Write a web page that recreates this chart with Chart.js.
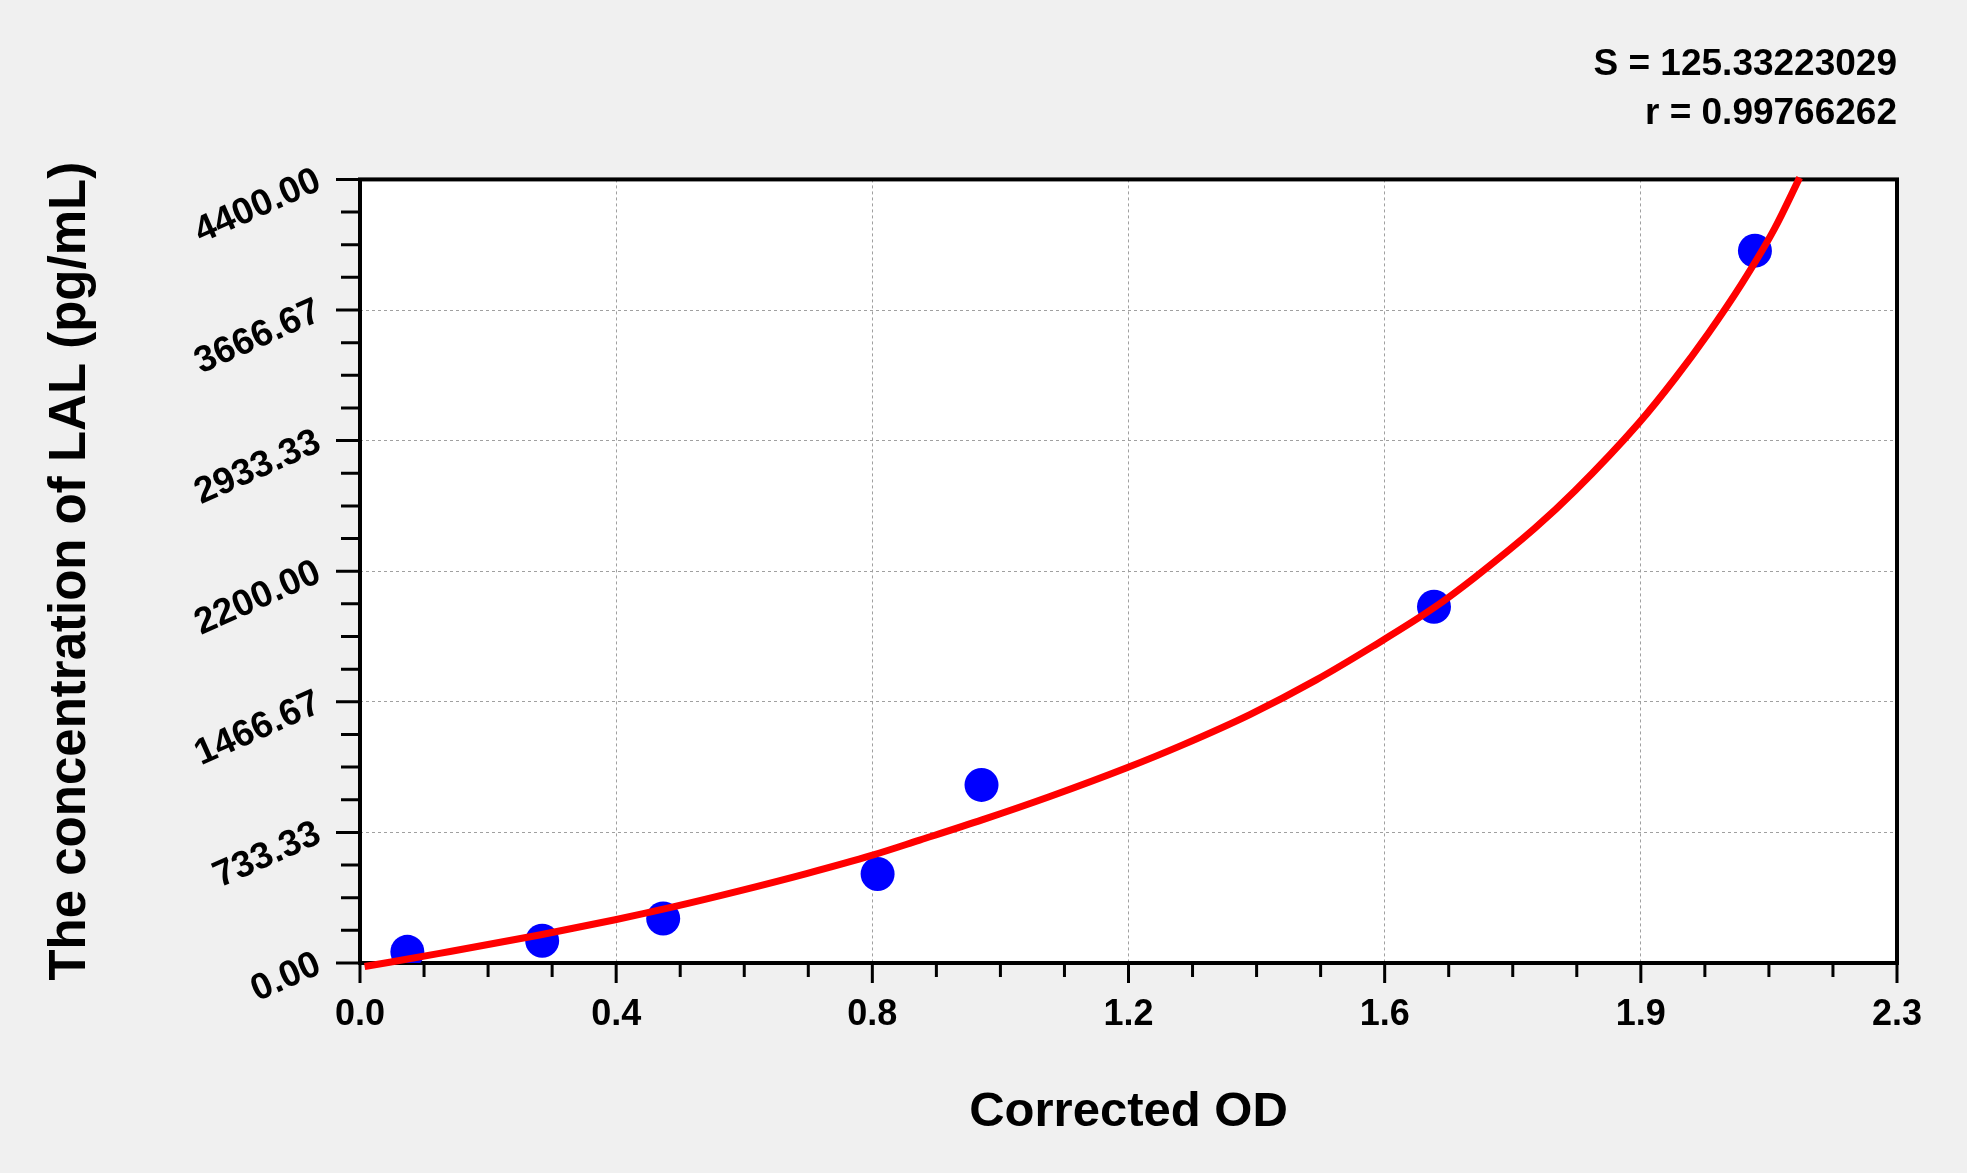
<!DOCTYPE html>
<html>
<head>
<meta charset="utf-8">
<script src="https://cdn.jsdelivr.net/npm/chart.js@4.4.1/dist/chart.umd.min.js"></script>
<style>
  html, body { margin: 0; padding: 0; background: #f0f0f0; }
  canvas { display: block; }
</style>
</head>
<body>
<canvas id="myChart" width="1967" height="1173"></canvas>
<script>
'use strict';

// standards: corrected OD vs concentration
var odValues = [0.072, 0.277, 0.461, 0.787, 0.945, 1.633, 2.121];
var concValues = [62.5, 125, 250, 500, 1000, 2000, 4000];

// fitted curve
var curveOd = [0.007, 0.121, 0.273, 0.388, 0.476, 0.577, 0.679, 0.778, 0.851, 0.947,
  1.049, 1.165, 1.251, 1.353, 1.454, 1.540, 1.633, 1.695, 1.786, 1.847,
  1.944, 2.000, 2.050, 2.101, 2.151, 2.189];
var curveConc = [-20, 54, 157, 243, 315, 405, 502, 604, 690, 805,
  935, 1095, 1225, 1395, 1590, 1778, 1995, 2165, 2440, 2650,
  3030, 3285, 3535, 3815, 4125, 4410];

// axes
var xTickLabels = ['0.0', '0.4', '0.8', '1.2', '1.6', '1.9', '2.3'];
var yTickLabels = ['0.00', '733.33', '1466.67', '2200.00', '2933.33', '3666.67', '4400.00'];
var statLines = ['S = 125.33223029', 'r = 0.99766262'];
var xMax = 2.337;
var yMax = 4400;

var fontName = '"Liberation Sans", Arial, sans-serif';

function toPoints(xs, ys) {
  var pts = [];
  for (var i = 0; i < xs.length; i++) {
    pts.push({ x: xs[i], y: ys[i] });
  }
  return pts;
}

// white plot box, frame and the major/minor tick marks
var framePlugin = {
  id: 'frame',
  beforeDraw: function(chart) {
    var ctx = chart.ctx;
    var a = chart.chartArea;
    ctx.save();
    ctx.fillStyle = '#f0f0f0';
    ctx.fillRect(0, 0, chart.width, chart.height);
    ctx.fillStyle = '#ffffff';
    ctx.fillRect(a.left, a.top, a.right - a.left, a.bottom - a.top);
    ctx.restore();
  },
  beforeDatasetsDraw: function(chart) {
    var ctx = chart.ctx;
    var a = chart.chartArea;
    var xs = chart.scales.x;
    var ys = chart.scales.y;
    var steps = (xTickLabels.length - 1) * 4;
    ctx.save();
    ctx.strokeStyle = '#000000';
    ctx.lineWidth = 3;
    ctx.beginPath();
    for (var i = 0; i <= steps; i++) {
      var px = xs.getPixelForValue(xMax * i / steps);
      var len = i % 4 === 0 ? 20 : 14;
      ctx.moveTo(px, a.bottom);
      ctx.lineTo(px, a.bottom + len);
      var py = ys.getPixelForValue(yMax * i / steps);
      len = i % 4 === 0 ? 24 : 19;
      ctx.moveTo(a.left, py);
      ctx.lineTo(a.left - len, py);
    }
    ctx.stroke();
    ctx.lineWidth = 4;
    ctx.strokeRect(a.left, a.top, a.right - a.left, a.bottom - a.top);
    ctx.restore();
  }
};

var ctx = document.getElementById('myChart').getContext('2d');
var chart = new Chart(ctx, {
  type: 'scatter',
  data: {
    datasets: [{
      label: 'fit',
      data: toPoints(curveOd, curveConc),
      showLine: true,
      borderColor: '#ff0000',
      borderWidth: 7,
      pointRadius: 0,
      cubicInterpolationMode: 'monotone',
      clip: false
    }, {
      label: 'standards',
      data: toPoints(odValues, concValues),
      backgroundColor: '#0000ff',
      borderWidth: 0,
      pointRadius: 17,
      pointHoverRadius: 17
    }]
  },
  options: {
    responsive: false,
    devicePixelRatio: 1,
    animation: false,
    layout: { padding: { left: 0, right: 70, top: 0, bottom: 0 } },
    plugins: {
      legend: { display: false },
      tooltip: { enabled: false },
      title: {
        display: true,
        text: statLines,
        align: 'end',
        color: '#000000',
        font: { family: fontName, size: 37, weight: 'bold', lineHeight: 1.33 },
        padding: { top: 40, bottom: 41 }
      }
    },
    scales: {
      x: {
        type: 'linear',
        min: 0,
        max: xMax,
        afterBuildTicks: function(scale) {
          scale.ticks = xTickLabels.map(function(l, i) {
            return { value: xMax * i / (xTickLabels.length - 1) };
          });
        },
        afterFit: function(scale) { scale.height = 210; },
        grid: { color: '#a0a0a0', lineWidth: 1, drawTicks: false },
        border: { display: false, dash: [3, 3] },
        ticks: {
          autoSkip: false,
          maxRotation: 0,
          padding: 30,
          color: '#000000',
          font: { family: fontName, size: 36, weight: 'bold' },
          callback: function(value, index) { return xTickLabels[index]; }
        },
        title: {
          display: true,
          text: 'Corrected OD',
          color: '#000000',
          font: { family: fontName, size: 49, weight: 'bold' },
          padding: { top: 0, bottom: 31 }
        }
      },
      y: {
        type: 'linear',
        min: 0,
        max: yMax,
        afterBuildTicks: function(scale) {
          scale.ticks = yTickLabels.map(function(l, i) {
            return { value: yMax * i / (yTickLabels.length - 1) };
          });
        },
        afterFit: function(scale) { scale.width = 360; },
        grid: { color: '#a0a0a0', lineWidth: 1, drawTicks: false },
        border: { display: false, dash: [3, 3] },
        ticks: {
          autoSkip: false,
          minRotation: 24,
          maxRotation: 24,
          padding: 41,
          color: '#000000',
          font: { family: fontName, size: 37, weight: 'bold' },
          callback: function(value, index) { return yTickLabels[index]; }
        },
        title: {
          display: true,
          text: 'The concentration of LAL (pg/mL)',
          color: '#000000',
          font: { family: fontName, size: 51, weight: 'bold' },
          padding: { top: 40, bottom: 0 }
        }
      }
    }
  },
  plugins: [framePlugin]
});
</script>
</body>
</html>
